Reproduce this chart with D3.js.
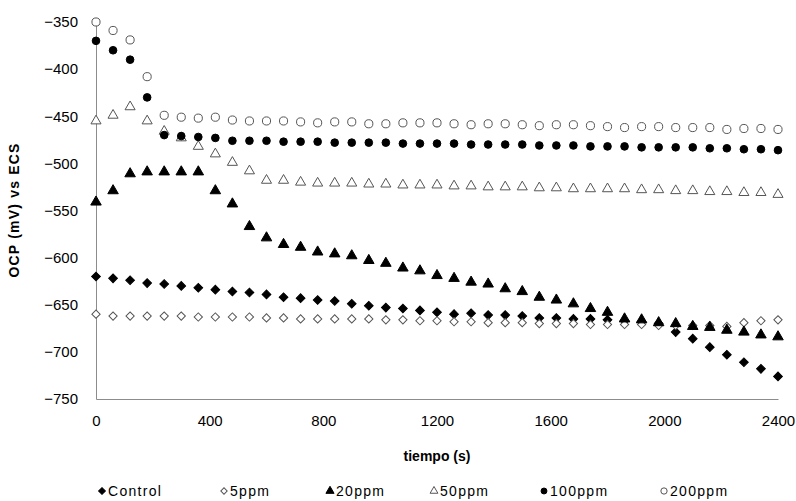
<!DOCTYPE html>
<html>
<head>
<meta charset="utf-8">
<script src="https://cdn.jsdelivr.net/npm/d3@7"></script>
<style>
  body { margin: 0; background: #fff; }
  text { font-family: "Liberation Sans", Arial, sans-serif; fill: #000; }
</style>
</head>
<body>
<svg id="chart" width="796" height="501"></svg>
<script>
// time axis: one reading every 60 s
let tiempo = d3.range(0, 2401, 60);

let control = [-620, -622, -624, -627, -628, -630, -632, -634, -636, -637, -639, -642, -643, -645, -646, -649, -651, -653, -654, -656, -658, -660, -659, -661, -661, -662, -664, -664, -665, -665, -666, -667, -668, -670, -679, -686, -695, -703, -711, -718, -726];
let ppm5 = [-660, -662, -662, -662, -662, -662, -663, -663, -663, -663, -664, -664, -665, -665, -665, -665, -665, -666, -666, -667, -667, -668, -668, -669, -669, -669, -670, -670, -670, -671, -671, -671, -671, -672, -672, -672, -672, -673, -669, -667, -666];
let ppm20 = [-541, -529, -511, -509, -509, -509, -509, -529, -543, -567, -579, -586, -589, -594, -596, -598, -603, -606, -611, -614, -619, -622, -626, -628, -633, -636, -642, -645, -649, -654, -658, -665, -666, -669, -670, -673, -674, -677, -679, -682, -684];
let ppm50 = [-455, -449, -440, -455, -466, -473, -482, -490, -499, -508, -518, -518, -520, -521, -521, -521, -522, -522, -523, -523, -523, -524, -524, -525, -525, -525, -526, -526, -527, -527, -527, -527, -528, -528, -529, -529, -530, -530, -531, -531, -533];
let ppm100 = [-370, -380, -390, -430, -470, -471, -472, -473, -476, -476, -476, -477, -477, -477, -478, -478, -478, -478, -479, -479, -479, -479, -480, -480, -480, -480, -481, -481, -481, -482, -482, -482, -483, -483, -483, -483, -484, -484, -485, -485, -486];
let ppm200 = [-350, -359, -369, -408, -449, -451, -452, -451, -454, -455, -455, -455, -456, -457, -456, -456, -458, -458, -457, -457, -457, -458, -459, -458, -458, -459, -460, -459, -459, -460, -461, -462, -461, -461, -462, -462, -462, -464, -463, -463, -464];

let seriesNames = ["Control", "5ppm", "20ppm", "50ppm", "100ppm", "200ppm"];
let seriesValues = [control, ppm5, ppm20, ppm50, ppm100, ppm200];
let xTicks = [0, 400, 800, 1200, 1600, 2000, 2400];
let yTicks = [-350, -400, -450, -500, -550, -600, -650, -700, -750];

// marker look per series
let markers = [
  { type: d3.symbolSquare, size: 38, rot: 45, fill: "#000", stroke: "#000" },
  { type: d3.symbolSquare, size: 34, rot: 45, fill: "#fff", stroke: "#555" },
  { type: d3.symbolTriangle, size: 48, rot: 0, fill: "#000", stroke: "#000" },
  { type: d3.symbolTriangle, size: 44, rot: 0, fill: "#fff", stroke: "#555" },
  { type: d3.symbolCircle, size: 46, rot: 0, fill: "#000", stroke: "#000" },
  { type: d3.symbolCircle, size: 52, rot: 0, fill: "#fff", stroke: "#555" }
];

let svg = d3.select("#chart");
let x = d3.scaleLinear().domain([0, 2400]).range([96, 778]);
let y = d3.scaleLinear().domain([-750, -350]).range([399, 22]);

let xAxis = svg.append("g")
  .attr("transform", "translate(0,399)")
  .call(d3.axisBottom(x).tickValues(xTicks).tickFormat(d3.format("d")).tickSize(0).tickPadding(22));
let yAxis = svg.append("g")
  .attr("transform", "translate(96,0)")
  .call(d3.axisLeft(y).tickValues(yTicks).tickFormat(d3.format("d")).tickSize(0).tickPadding(18));

[xAxis, yAxis].forEach(function (g) {
  g.select(".domain").attr("stroke", "#8c8c8c").attr("stroke-width", 1);
  g.selectAll("text").style("font-size", "15px").style("font-family", "Liberation Sans, Arial, sans-serif").attr("fill", "#000");
});
xAxis.selectAll("text").attr("dy", "0.32em");

svg.append("text")
  .attr("x", 437)
  .attr("y", 461)
  .attr("text-anchor", "middle")
  .style("font-size", "14px")
  .style("font-weight", "bold")
  .text("tiempo (s)");

svg.append("text")
  .attr("transform", "translate(19,210) rotate(-90)")
  .attr("text-anchor", "middle")
  .style("font-size", "14px")
  .style("font-weight", "bold")
  .style("letter-spacing", "1.2px")
  .text("OCP (mV) vs ECS");

// data points
for (var s = 0; s < seriesValues.length; s++) {
  let m = markers[s];
  svg.append("g")
    .selectAll("path")
    .data(seriesValues[s])
    .enter()
    .append("path")
    .attr("d", d3.symbol().type(m.type).size(m.size))
    .attr("transform", function (d, i) {
      return "translate(" + x(tiempo[i]) + "," + y(d) + ") rotate(" + m.rot + ")";
    })
    .attr("fill", m.fill)
    .attr("stroke", m.stroke)
    .attr("stroke-width", 1);
}

// legend
let legendX = [102, 224, 330, 434, 544, 664];
let legend = svg.append("g");
for (var k = 0; k < seriesNames.length; k++) {
  let m = markers[k];
  legend.append("path")
    .attr("d", d3.symbol().type(m.type).size(m.size * 0.6))
    .attr("transform", "translate(" + legendX[k] + ",491) rotate(" + m.rot + ")")
    .attr("fill", m.fill)
    .attr("stroke", m.stroke);
  legend.append("text")
    .attr("x", legendX[k] + 6)
    .attr("y", 496)
    .style("font-size", "14px")
    .style("letter-spacing", "1.3px")
    .text(seriesNames[k]);
}
</script>
</body>
</html>
